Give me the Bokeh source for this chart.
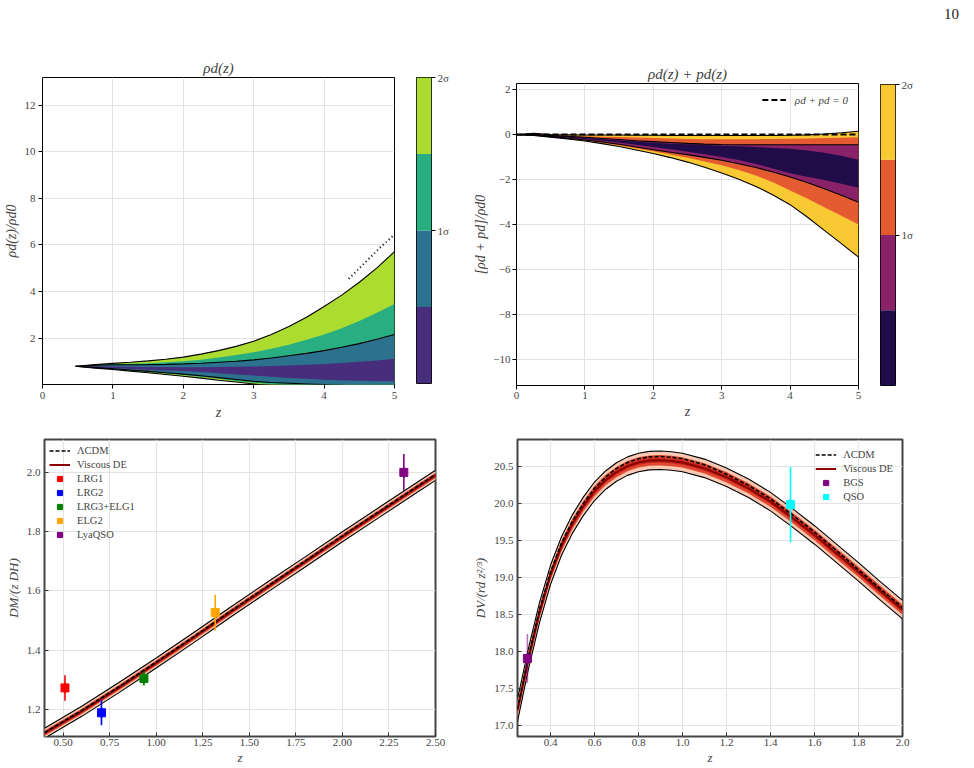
import numpy as np
from bokeh.plotting import figure
from bokeh.layouts import row, column
from bokeh.models import Range1d, FixedTicker, Legend, LegendItem, Div, PrintfTickFormatter
from bokeh.embed import file_html
from bokeh.resources import INLINE

FONT = "Liberation Serif"

# ---------------- rho_d(z)/rho_d0 : band boundaries in 0.5 sigma steps ----------------
rho_z    = [0.47, 0.75, 1.0, 1.25, 1.5, 1.75, 2.0, 2.25, 2.5, 2.75, 3.0, 3.25, 3.5, 3.75,
            4.0, 4.25, 4.5, 4.75, 5.0]
rho_up2  = [0.80, 0.87, 0.92, 0.97, 1.03, 1.10, 1.19, 1.32, 1.47, 1.65, 1.87, 2.16, 2.50, 2.90,
            3.36, 3.85, 4.40, 5.02, 5.71]
rho_up15 = [0.80, 0.855, 0.88, 0.905, 0.93, 0.965, 1.01, 1.08, 1.17, 1.28, 1.40, 1.55, 1.72, 1.93,
            2.16, 2.43, 2.74, 3.09, 3.47]
rho_up1  = [0.80, 0.84, 0.86, 0.865, 0.87, 0.88, 0.90, 0.93, 0.97, 1.01, 1.07, 1.15, 1.25, 1.35,
            1.47, 1.61, 1.77, 1.96, 2.16]
rho_up05 = [0.80, 0.80, 0.79, 0.78, 0.77, 0.765, 0.76, 0.76, 0.77, 0.78, 0.79, 0.81, 0.83, 0.86,
            0.90, 0.94, 0.99, 1.05, 1.12]
rho_lo05 = [0.80, 0.75, 0.71, 0.68, 0.65, 0.62, 0.59, 0.55, 0.50, 0.45, 0.40, 0.35, 0.30, 0.26,
            0.22, 0.20, 0.18, 0.17, 0.16]
rho_lo1  = [0.80, 0.74, 0.69, 0.635, 0.58, 0.52, 0.46, 0.39, 0.31, 0.23, 0.15, 0.10, 0.07, 0.04,
            0.01, -0.02, -0.05, -0.08, -0.10]
rho_lo15 = [0.80, 0.73, 0.675, 0.61, 0.55, 0.485, 0.42, 0.34, 0.26, 0.17, 0.09, 0.03, -0.02, -0.06,
            -0.10, -0.15, -0.20, -0.25, -0.30]
rho_lo2  = [0.80, 0.72, 0.66, 0.59, 0.52, 0.445, 0.37, 0.29, 0.20, 0.12, 0.04, -0.03, -0.10, -0.15,
            -0.20, -0.25, -0.30, -0.35, -0.40]
rho_dot_z = [4.35, 4.50, 4.65, 4.80, 5.00]
rho_dot   = [4.55, 5.00, 5.45, 5.90, 6.45]

# ---------------- [rho_d + p_d]/rho_d0 : band boundaries ----------------
wp_z    = [0.0, 0.25, 0.5, 0.75, 1.0, 1.25, 1.5, 1.75, 2.0, 2.25, 2.5, 2.75, 3.0, 3.25, 3.5,
           3.75, 4.0, 4.25, 4.5, 4.75, 5.0]
wp_up2  = [0.0, 0.06, 0.00, -0.01, -0.02, -0.02, -0.02, -0.03, -0.03, -0.04, -0.04, -0.04, -0.04,
           -0.04, -0.04, -0.04, -0.03, -0.01, 0.03, 0.08, 0.15]
wp_up15 = [0.0, 0.03, -0.02, -0.05, -0.07, -0.09, -0.11, -0.13, -0.15, -0.17, -0.19, -0.20, -0.21,
           -0.21, -0.20, -0.19, -0.18, -0.17, -0.15, -0.14, -0.12]
wp_up1  = [0.0, 0.00, -0.04, -0.08, -0.12, -0.17, -0.22, -0.27, -0.31, -0.35, -0.39, -0.42, -0.44,
           -0.45, -0.45, -0.45, -0.45, -0.45, -0.45, -0.45, -0.45]
wp_up05 = [0.0, -0.01, -0.05, -0.10, -0.15, -0.20, -0.26, -0.31, -0.36, -0.40, -0.43, -0.46, -0.49,
           -0.52, -0.55, -0.59, -0.63, -0.70, -0.80, -0.94, -1.12]
wp_lo05 = [0.0, -0.02, -0.07, -0.13, -0.20, -0.27, -0.35, -0.45, -0.55, -0.65, -0.76, -0.87, -0.99,
           -1.13, -1.30, -1.50, -1.72, -1.87, -2.02, -2.18, -2.36]
wp_lo1  = [0.0, -0.03, -0.09, -0.16, -0.24, -0.33, -0.43, -0.55, -0.67, -0.78, -0.89, -1.01, -1.14,
           -1.29, -1.46, -1.66, -1.88, -2.13, -2.40, -2.69, -3.00]
wp_lo15 = [0.0, -0.035, -0.10, -0.17, -0.26, -0.36, -0.48, -0.60, -0.74, -0.88, -1.03, -1.19, -1.36,
           -1.57, -1.82, -2.12, -2.48, -2.84, -3.22, -3.60, -3.99]
wp_lo2  = [0.0, -0.04, -0.11, -0.19, -0.28, -0.40, -0.53, -0.68, -0.84, -1.02, -1.22, -1.45, -1.70,
           -1.98, -2.30, -2.68, -3.11, -3.66, -4.25, -4.84, -5.44]
wp_zero_z = [0.0, 5.0]
wp_zero   = [0.0, 0.0]

sigma_levels = [0.0, 0.5, 1.0, 1.5, 2.0]
viridis4 = ["#472d7b", "#2c718e", "#28ae80", "#addc30"]
inferno4 = ["#1f0c48", "#8a226a", "#e45a31", "#f8c932"]

# ---------------- D_M/(z D_H) ----------------
dm_z     = [0.40, 0.60, 0.80, 1.00, 1.20, 1.40, 1.60, 1.80, 2.00, 2.20, 2.40, 2.50]
dm_mean  = [1.120, 1.194, 1.274, 1.357, 1.442, 1.529, 1.614, 1.698, 1.783, 1.866, 1.949, 1.990]
dm_lcdm  = [1.122, 1.197, 1.277, 1.360, 1.445, 1.532, 1.617, 1.701, 1.786, 1.869, 1.952, 1.993]
dm_half1 = [0.009, 0.009, 0.009, 0.009, 0.009, 0.009, 0.009, 0.009, 0.009, 0.009, 0.009, 0.009]
dm_half2 = [0.017, 0.017, 0.017, 0.017, 0.017, 0.017, 0.017, 0.017, 0.017, 0.017, 0.017, 0.017]
dm_names = ["LRG1", "LRG2", "LRG3+ELG1", "ELG2", "LyaQSO"]
dm_obs_z = [0.510, 0.706, 0.934, 1.317, 2.330]
dm_obs   = [1.273, 1.189, 1.305, 1.527, 2.000]
dm_err   = [0.043, 0.042, 0.024, 0.060, 0.062]
dm_cols  = ["#ff0000", "#0000ff", "#008000", "#ffa500", "#800080"]

# ---------------- D_V/(r_d z^{2/3}) ----------------
dv_z     = [0.25, 0.30, 0.35, 0.40, 0.45, 0.50, 0.55, 0.60, 0.65, 0.70, 0.75, 0.80, 0.85,
            0.90, 0.95, 1.00, 1.10, 1.20, 1.30, 1.40, 1.50, 1.60, 1.70, 1.80, 1.90, 2.00]
dv_mean  = [17.20, 17.90, 18.52, 19.03, 19.42, 19.72, 19.96, 20.16, 20.31, 20.42, 20.50, 20.55,
            20.575, 20.58, 20.57, 20.55, 20.47, 20.35, 20.20, 20.02, 19.80, 19.57, 19.32, 19.07,
            18.81, 18.56]
dv_lcdm  = [17.22, 17.93, 18.56, 19.07, 19.46, 19.76, 20.00, 20.20, 20.35, 20.47, 20.55, 20.60,
            20.625, 20.63, 20.62, 20.60, 20.52, 20.39, 20.24, 20.06, 19.84, 19.61, 19.36, 19.10,
            18.84, 18.59]
dv_half1 = [0.08, 0.08, 0.075, 0.07, 0.07, 0.07, 0.07, 0.07, 0.07, 0.07, 0.07, 0.07, 0.07,
            0.07, 0.07, 0.07, 0.07, 0.07, 0.07, 0.07, 0.07, 0.07, 0.07, 0.07, 0.07, 0.07]
dv_half2 = [0.15, 0.14, 0.135, 0.13, 0.125, 0.125, 0.125, 0.125, 0.125, 0.125, 0.125, 0.125, 0.125,
            0.125, 0.125, 0.125, 0.125, 0.125, 0.125, 0.125, 0.125, 0.125, 0.125, 0.125, 0.125, 0.125]
dv_names = ["BGS", "QSO"]
dv_obs_z = [0.295, 1.491]
dv_obs   = [17.90, 19.98]
dv_err   = [0.33, 0.51]
dv_cols  = ["#800080", "#00ffff"]


def make_fig(width, height, xr, yr, borders, title=None):
    l, r, t, b = borders
    p = figure(width=width, height=height, x_range=Range1d(*xr), y_range=Range1d(*yr),
               toolbar_location=None, output_backend="svg", title=title,
               min_border_left=l, min_border_right=r, min_border_top=t, min_border_bottom=b)
    p.frame_align = False
    p.background_fill_color = "white"
    p.border_fill_color = "white"
    for g in (p.xgrid[0], p.ygrid[0]):
        g.grid_line_color = "#e3e3e3"
        g.grid_line_width = 1
    for ax in (p.xaxis[0], p.yaxis[0]):
        ax.major_label_text_font = FONT
        ax.major_label_text_font_size = "11px"
        ax.axis_label_text_font = FONT
        ax.axis_label_text_font_size = "14px"
        ax.axis_label_text_font_style = "italic"
        ax.minor_tick_line_color = None
        ax.axis_line_color = None
        ax.major_tick_line_color = "black"
    if title is not None:
        p.title.text_font = FONT
        p.title.text_font_size = "15px"
        p.title.text_font_style = "italic"
        p.title.align = "center"
        p.title.standoff = 4
    return p


def sigma_bar(colors, width, height, borders):
    l, r, t, b = borders
    cb = figure(width=width, height=height, x_range=Range1d(0, 1),
                y_range=Range1d(sigma_levels[0], sigma_levels[-1]),
                x_axis_location=None, y_axis_location="right",
                toolbar_location=None, output_backend="svg",
                min_border_left=l, min_border_right=r, min_border_top=t, min_border_bottom=b)
    cb.frame_align = False
    cb.quad(left=0, right=1, bottom=sigma_levels[:-1], top=sigma_levels[1:],
            fill_color=colors, line_color=None)
    cb.xgrid.visible = False
    cb.ygrid.visible = False
    cb.outline_line_color = "black"
    cb.outline_line_width = 1
    ax = cb.yaxis[0]
    ax.ticker = FixedTicker(ticks=[1.0, 2.0])
    ax.major_label_overrides = {1.0: "1σ", 2.0: "2σ"}
    ax.major_label_text_font = FONT
    ax.major_label_text_font_size = "11px"
    ax.major_tick_in = 0
    ax.major_tick_out = 4
    ax.major_label_standoff = 2
    ax.minor_tick_line_color = None
    ax.axis_line_color = None
    return cb


def nested_bands(p, z, bounds, colors):
    # bounds run from the outermost (2 sigma) to the innermost band
    for (lo, up), c in zip(bounds, colors):
        p.varea(x=z, y1=lo, y2=up, fill_color=c)


# ---------- top left: rho_d(z) ----------
p1 = make_fig(402, 430, (0, 5), (0.016, 13.18), (42, 8, 77, 46), title="ρd(z)")
nested_bands(p1, rho_z,
             [(rho_lo2, rho_up2), (rho_lo15, rho_up15), (rho_lo1, rho_up1), (rho_lo05, rho_up05)],
             viridis4[::-1])
for curve in (rho_up2, rho_up1, rho_lo1, rho_lo2):
    p1.line(rho_z, curve, line_color="black", line_width=1.1)
p1.line(rho_dot_z, rho_dot, line_color="black", line_width=2, line_dash="1 3")
p1.xaxis[0].ticker = FixedTicker(ticks=[0, 1, 2, 3, 4, 5])
p1.yaxis[0].ticker = FixedTicker(ticks=[2, 4, 6, 8, 10, 12])
p1.xaxis.axis_label = "z"
p1.yaxis.axis_label = "ρd(z)/ρd0"
for ax in (p1.xaxis[0], p1.yaxis[0]):
    ax.major_tick_in = 0
    ax.major_tick_out = 4
    ax.major_label_standoff = 3
    ax.axis_label_standoff = 3
p1.outline_line_color = "black"
p1.outline_line_width = 1

cb1 = sigma_bar(viridis4, 68, 430, (14, 39, 77, 47))

# ---------- top right: rho_d + p_d ----------
p2 = make_fig(396, 430, (0, 5), (-11.14, 2.27), (44, 8, 83, 45), title="ρd(z) + pd(z)")
nested_bands(p2, wp_z,
             [(wp_lo2, wp_up2), (wp_lo15, wp_up15), (wp_lo1, wp_up1), (wp_lo05, wp_up05)],
             inferno4[::-1])
for curve in (wp_up2, wp_up1, wp_lo1, wp_lo2):
    p2.line(wp_z, curve, line_color="black", line_width=1.1)
zero_line = p2.line(wp_zero_z, wp_zero, line_color="black", line_width=2, line_dash="6 3")
p2.xaxis[0].ticker = FixedTicker(ticks=[0, 1, 2, 3, 4, 5])
p2.yaxis[0].ticker = FixedTicker(ticks=[2, 0, -2, -4, -6, -8, -10])
p2.yaxis[0].major_label_overrides = {v: (str(v) if v >= 0 else "\u2212" + str(-v))
                                      for v in [2, 0, -2, -4, -6, -8, -10]}
p2.xaxis.axis_label = "z"
p2.yaxis.axis_label = "[ρd + pd]/ρd0"
for ax in (p2.xaxis[0], p2.yaxis[0]):
    ax.major_tick_in = 0
    ax.major_tick_out = 4
    ax.major_label_standoff = 2
    ax.axis_label_standoff = 2
p2.outline_line_color = "black"
p2.outline_line_width = 1
leg2 = Legend(items=[LegendItem(label="ρd + pd = 0", renderers=[zero_line])],
              location="top_right", margin=10, padding=5, glyph_width=24, glyph_height=13,
              label_height=13, label_standoff=9, spacing=0,
              label_text_font=FONT, label_text_font_size="11px", label_text_font_style="italic",
              border_line_color=None, background_fill_alpha=0)
p2.add_layout(leg2)

cb2 = sigma_bar(inferno4, 108, 400, (14, 79, 54, 45))
page_no = Div(text='<div style="padding-left:78px;padding-top:4px;font-family:\'Liberation Serif\';'
                   'font-size:15px;color:#222">10</div>', width=108, height=30, margin=(0, 0, 0, 0))


def band_panel(p, z, mean, half1, half2, lcdm):
    z = np.array(z)
    m = np.array(mean)
    h1 = np.array(half1)
    h2 = np.array(half2)
    p.varea(x=z, y1=m - h2, y2=m + h2, fill_color="#f9c9b3")
    p.varea(x=z, y1=m - h1, y2=m + h1, fill_color="#e2472f")
    p.varea(x=z, y1=m - h1 * 0.45, y2=m + h1 * 0.45, fill_color="#c4261b")
    p.line(z, m - h2, line_color="black", line_width=1.1)
    p.line(z, m + h2, line_color="black", line_width=1.1)
    visc = p.line(z, m, line_color="#8b0000", line_width=2)
    lc = p.line(z, np.array(lcdm), line_color="black", line_width=1.6, line_dash="4 2")
    return lc, visc


def data_points(p, zs, vals, errs, cols, names, alphas=None):
    items = []
    for i in range(len(zs)):
        a = 1.0 if alphas is None else alphas[i]
        p.segment(x0=[zs[i]], y0=[vals[i] - errs[i]], x1=[zs[i]], y1=[vals[i] + errs[i]],
                  line_color=cols[i], line_width=1.6, line_alpha=a)
        tick = p.scatter(x=[zs[i]], y=[vals[i]], marker="dash", angle=np.pi / 2, size=11,
                         line_color=cols[i], line_width=1.6, line_alpha=a)
        sq = p.scatter(x=[zs[i]], y=[vals[i]], marker="square", size=8,
                       fill_color=cols[i], line_color=cols[i])
        items.append(LegendItem(label=names[i], renderers=[tick, sq]))
    return items


def style_bottom(p):
    for ax in (p.xaxis[0], p.yaxis[0]):
        ax.major_tick_in = 4
        ax.major_tick_out = 0
        ax.major_tick_line_color = "#333333"
        ax.axis_label_text_font_size = "13px"
    p.xaxis[0].major_label_standoff = 2
    p.xaxis[0].axis_label_standoff = 1
    p.yaxis[0].major_label_standoff = 4
    p.yaxis[0].axis_label_standoff = 3
    p.outline_line_color = "#444444"
    p.outline_line_width = 2


def make_legend(items, loc, margin):
    return Legend(items=items, location=loc, margin=margin, padding=4, glyph_width=21,
                  glyph_height=13, label_height=13, label_standoff=7, spacing=1,
                  label_text_font=FONT, label_text_font_size="10.5px",
                  border_line_color=None, background_fill_alpha=0)


# ---------- bottom left: D_M/(z D_H) ----------
p3 = make_fig(470, 338, (0.4, 2.5), (1.109, 2.111), (44, 35, 9, 32))
lc3, visc3 = band_panel(p3, dm_z, dm_mean, dm_half1, dm_half2, dm_lcdm)
pts3 = data_points(p3, dm_obs_z, dm_obs, dm_err, dm_cols, dm_names)
p3.xaxis[0].ticker = FixedTicker(ticks=[0.5, 0.75, 1.0, 1.25, 1.5, 1.75, 2.0, 2.25, 2.5])
p3.xaxis[0].formatter = PrintfTickFormatter(format="%.2f")
p3.yaxis[0].ticker = FixedTicker(ticks=[1.2, 1.4, 1.6, 1.8, 2.0])
p3.yaxis[0].formatter = PrintfTickFormatter(format="%.1f")
p3.xaxis.axis_label = "z"
p3.yaxis.axis_label = "DM/(z DH)"
style_bottom(p3)
p3.add_layout(make_legend([LegendItem(label="ΛCDM", renderers=[lc3]),
                           LegendItem(label="Viscous DE", renderers=[visc3])] + pts3,
                          "top_left", 5))

# ---------- bottom right: D_V/(r_d z^{2/3}) ----------
p4 = make_fig(504, 338, (0.25, 2.0), (16.846, 20.86), (44, 72, 9, 32))
lc4, visc4 = band_panel(p4, dv_z, dv_mean, dv_half1, dv_half2, dv_lcdm)
pts4 = data_points(p4, dv_obs_z, dv_obs, dv_err, dv_cols, dv_names, alphas=[0.55, 1.0])
p4.xaxis[0].ticker = FixedTicker(ticks=[0.4, 0.6, 0.8, 1.0, 1.2, 1.4, 1.6, 1.8, 2.0])
p4.xaxis[0].formatter = PrintfTickFormatter(format="%.1f")
p4.yaxis[0].ticker = FixedTicker(ticks=[17.0, 17.5, 18.0, 18.5, 19.0, 19.5, 20.0, 20.5])
p4.yaxis[0].formatter = PrintfTickFormatter(format="%.1f")
p4.xaxis.axis_label = "z"
p4.yaxis.axis_label = "DV/(rd z²/³)"
style_bottom(p4)
p4.add_layout(make_legend([LegendItem(label="ΛCDM", renderers=[lc4]),
                           LegendItem(label="Viscous DE", renderers=[visc4])] + pts4,
                          "top_right", 9))

layout = column(row(p1, cb1, p2, column(page_no, cb2)), row(p3, p4))

open("out.html", "w").write(file_html(layout, INLINE))
